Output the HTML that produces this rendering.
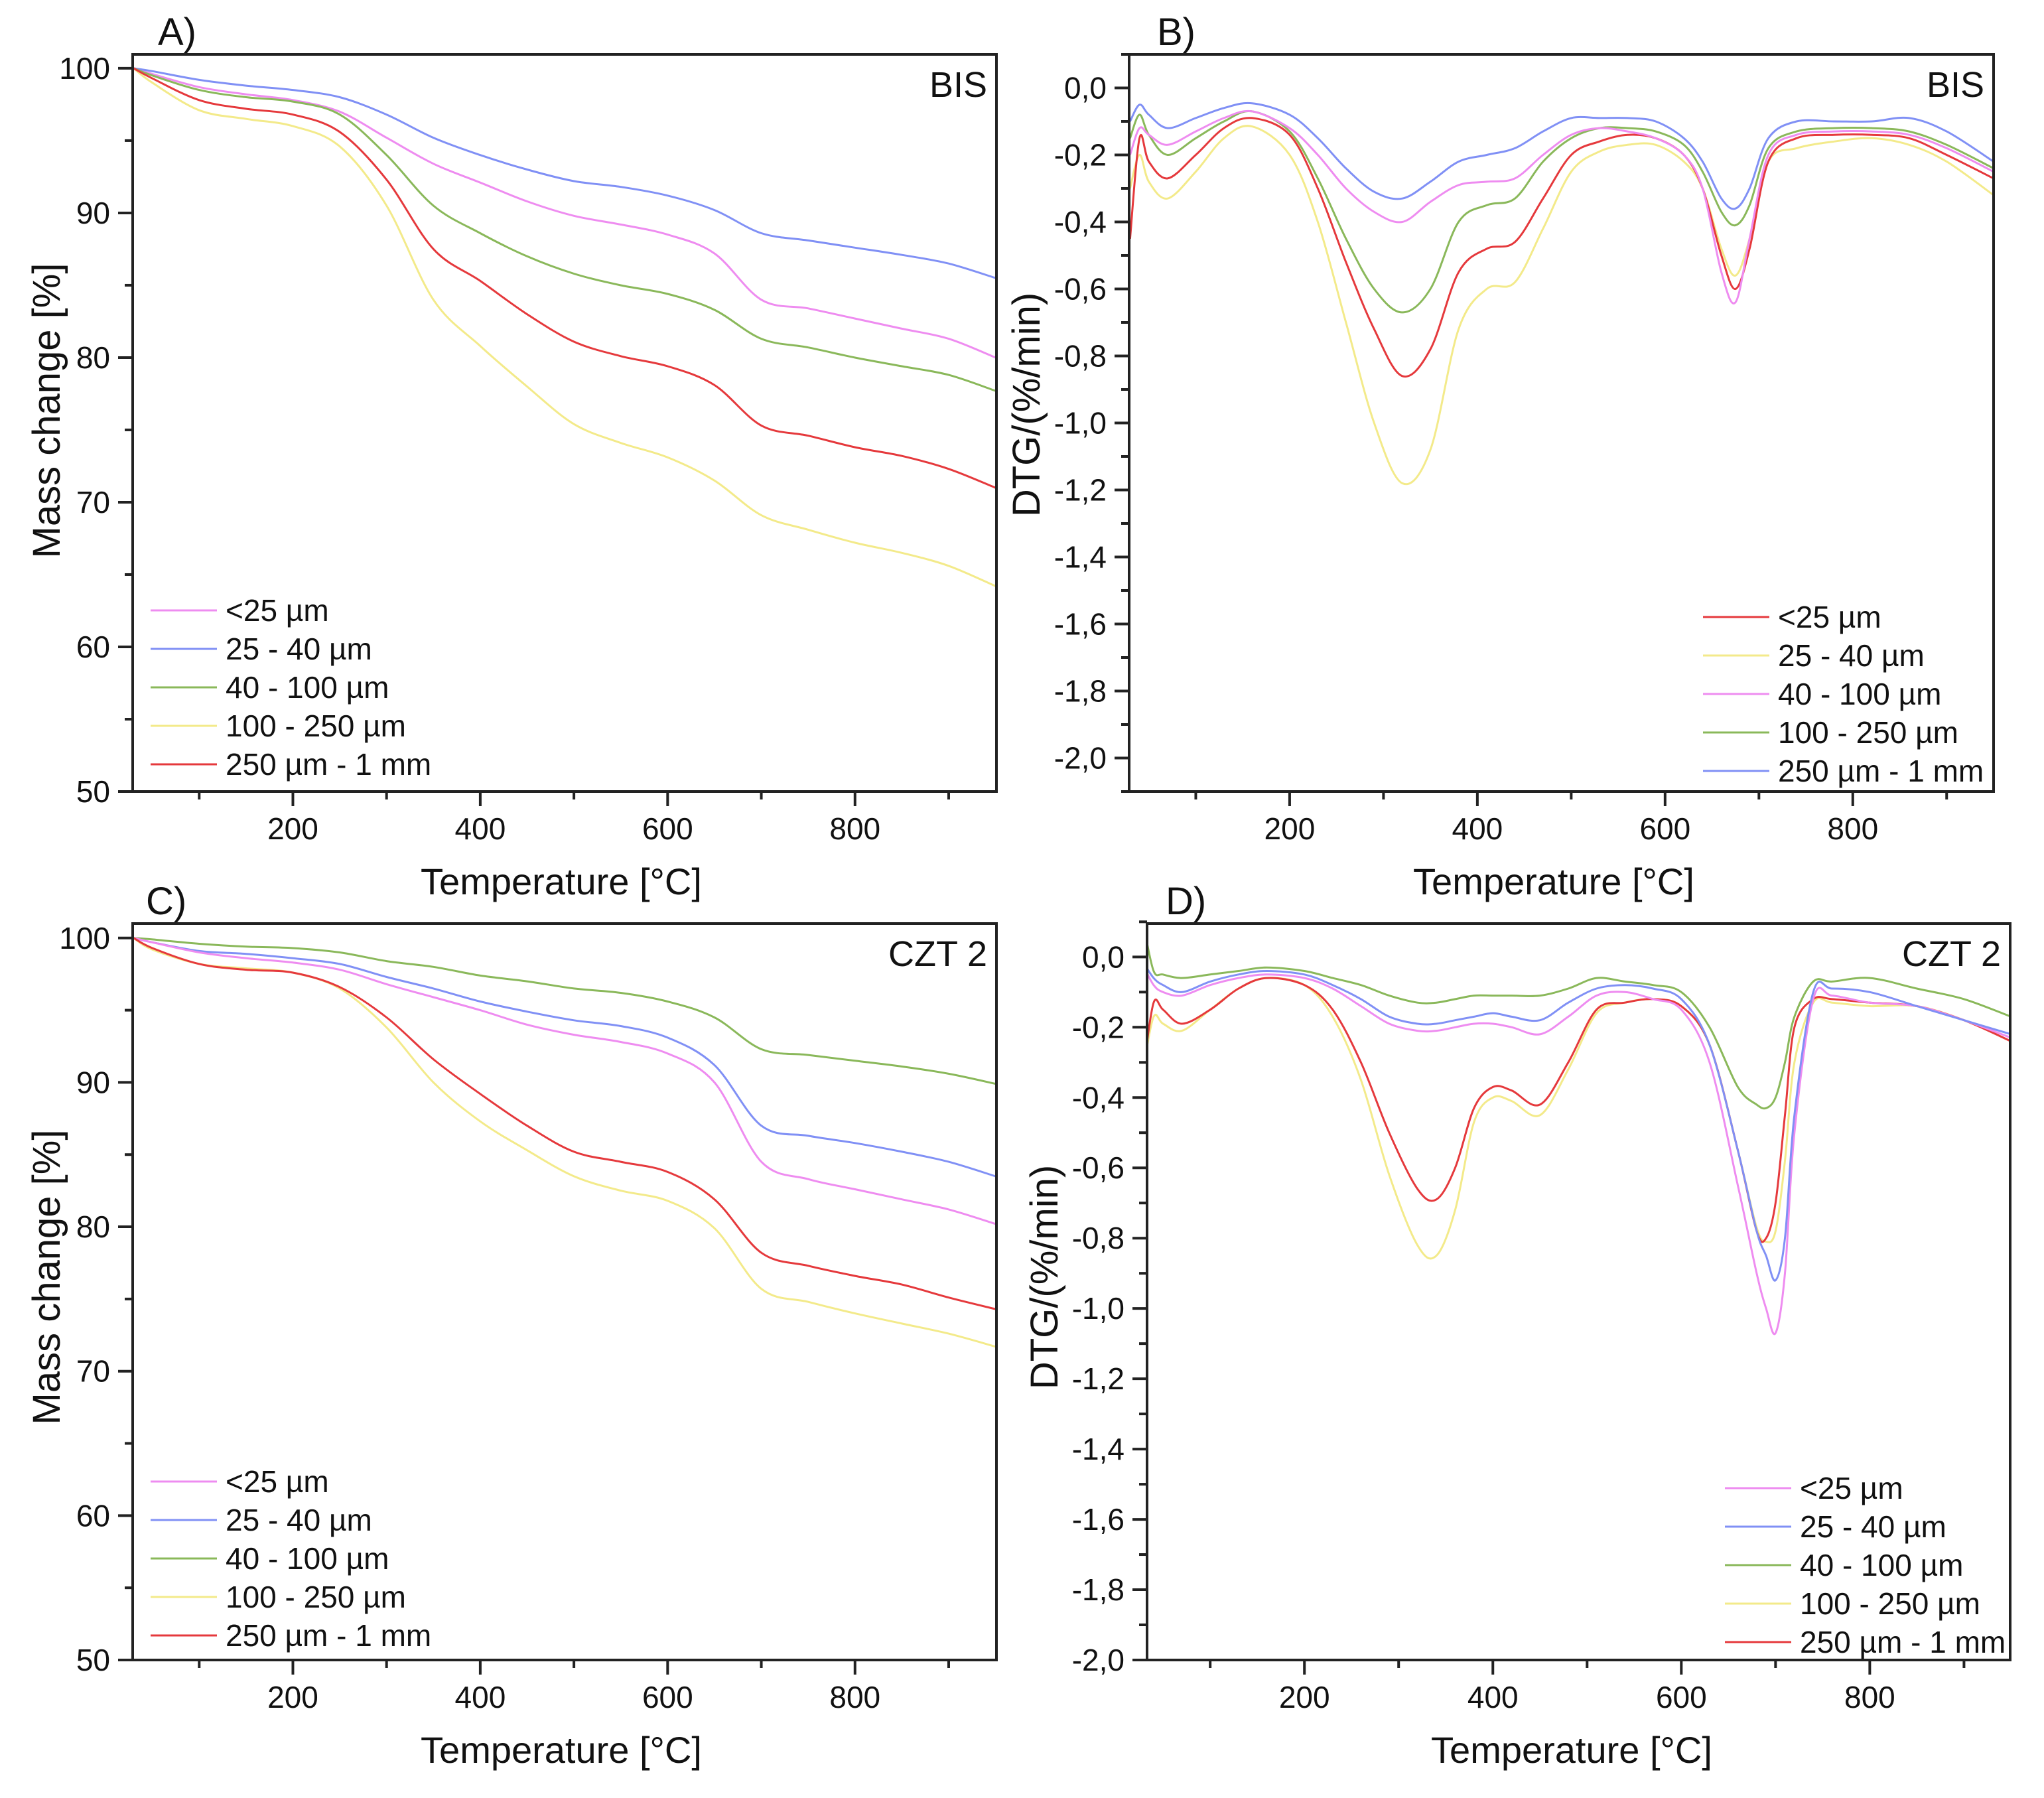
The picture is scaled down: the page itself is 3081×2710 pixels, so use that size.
<!DOCTYPE html>
<html><head><meta charset="utf-8"><style>
html,body{margin:0;padding:0;background:#fff;}
svg{display:block;font-family:"Liberation Sans",Arial,sans-serif;}
</style></head><body>
<svg id="fig" width="3081" height="2710" viewBox="0 0 3081 2710" xmlns="http://www.w3.org/2000/svg"></svg>
<script>
// ---------- Data ----------
const tgaT = [30,50,100,150,200,250,300,350,400,450,500,550,600,650,700,750,800,850,900,950];
const aPink   = [100,99.6,98.7,98.2,97.8,97.0,95.2,93.4,92.1,90.8,89.8,89.2,88.5,87.2,84.0,83.4,82.7,82.0,81.3,80.0];
const aBlue   = [100,99.8,99.2,98.8,98.5,98.0,96.8,95.2,94.0,93.0,92.2,91.8,91.2,90.2,88.6,88.1,87.6,87.1,86.5,85.5];
const aGreen  = [100,99.5,98.5,98.0,97.7,96.8,94.0,90.5,88.6,87.0,85.8,85.0,84.4,83.3,81.3,80.7,80.0,79.4,78.8,77.7];
const aYellow = [100,99.0,97.1,96.5,96.0,94.6,90.5,84.0,80.8,78.0,75.4,74.1,73.1,71.5,69.1,68.1,67.2,66.5,65.6,64.2];
const aRed    = [100,99.3,97.8,97.2,96.8,95.6,92.3,87.5,85.3,83.0,81.1,80.1,79.4,78.1,75.3,74.6,73.8,73.2,72.3,71.0];

const cGreen  = [100,99.9,99.6,99.4,99.3,99.0,98.4,98.0,97.4,97.0,96.5,96.2,95.6,94.5,92.3,91.9,91.5,91.1,90.6,89.9];
const cBlue   = [100,99.7,99.1,98.9,98.6,98.2,97.3,96.5,95.6,94.9,94.3,93.9,93.1,91.2,87.0,86.3,85.8,85.2,84.5,83.5];
const cPink   = [100,99.7,99.0,98.6,98.3,97.8,96.8,95.9,95.0,94.0,93.3,92.8,92.0,90.0,84.5,83.3,82.6,81.9,81.2,80.2];
const cRed    = [100,99.3,98.2,97.8,97.6,96.6,94.5,91.6,89.2,87.0,85.2,84.5,83.8,81.9,78.2,77.3,76.6,76.0,75.1,74.3];
const cYellow = [100,99.2,98.2,97.9,97.6,96.5,93.8,90.0,87.3,85.3,83.5,82.5,81.8,79.9,75.7,74.8,74.0,73.3,72.6,71.7];

const bT = [30,40,50,70,100,130,160,200,230,260,290,320,350,380,410,440,470,500,530,560,590,620,640,660,675,690,710,740,780,820,860,900,950];
const bRed    = [-0.45,-0.15,-0.22,-0.27,-0.2,-0.12,-0.09,-0.14,-0.3,-0.52,-0.72,-0.86,-0.78,-0.55,-0.48,-0.46,-0.33,-0.2,-0.16,-0.14,-0.15,-0.2,-0.3,-0.5,-0.6,-0.48,-0.22,-0.15,-0.14,-0.14,-0.15,-0.2,-0.27];
const bYellow = [-0.3,-0.2,-0.28,-0.33,-0.25,-0.15,-0.115,-0.2,-0.4,-0.7,-1.0,-1.18,-1.08,-0.72,-0.6,-0.58,-0.42,-0.25,-0.19,-0.17,-0.17,-0.22,-0.3,-0.48,-0.56,-0.45,-0.22,-0.18,-0.16,-0.15,-0.17,-0.22,-0.32];
const bPink   = [-0.2,-0.12,-0.14,-0.17,-0.13,-0.09,-0.07,-0.12,-0.2,-0.3,-0.37,-0.4,-0.34,-0.29,-0.28,-0.27,-0.2,-0.14,-0.12,-0.13,-0.15,-0.2,-0.3,-0.55,-0.64,-0.45,-0.2,-0.14,-0.13,-0.13,-0.14,-0.18,-0.25];
const bGreen  = [-0.15,-0.08,-0.14,-0.2,-0.15,-0.1,-0.07,-0.13,-0.27,-0.45,-0.6,-0.67,-0.6,-0.4,-0.35,-0.33,-0.22,-0.15,-0.12,-0.12,-0.13,-0.17,-0.25,-0.37,-0.41,-0.35,-0.18,-0.13,-0.12,-0.12,-0.13,-0.17,-0.24];
const bBlue   = [-0.1,-0.05,-0.08,-0.12,-0.09,-0.06,-0.046,-0.08,-0.15,-0.24,-0.31,-0.33,-0.28,-0.22,-0.2,-0.18,-0.13,-0.09,-0.09,-0.09,-0.1,-0.15,-0.22,-0.33,-0.36,-0.3,-0.15,-0.1,-0.1,-0.1,-0.09,-0.13,-0.22];

const dT = [30,40,50,70,100,130,160,200,230,260,290,320,340,360,380,400,420,450,480,510,540,570,600,630,660,680,690,700,710,720,740,760,800,850,900,950];
const dRed    = [-0.3,-0.13,-0.15,-0.19,-0.15,-0.09,-0.06,-0.08,-0.15,-0.3,-0.5,-0.66,-0.69,-0.6,-0.43,-0.37,-0.38,-0.42,-0.3,-0.15,-0.13,-0.12,-0.14,-0.25,-0.55,-0.78,-0.8,-0.7,-0.45,-0.2,-0.12,-0.12,-0.13,-0.14,-0.18,-0.24];
const dYellow = [-0.3,-0.17,-0.19,-0.21,-0.15,-0.09,-0.06,-0.08,-0.17,-0.35,-0.62,-0.82,-0.85,-0.72,-0.47,-0.4,-0.41,-0.45,-0.32,-0.16,-0.13,-0.12,-0.14,-0.25,-0.55,-0.77,-0.81,-0.78,-0.58,-0.3,-0.13,-0.13,-0.14,-0.14,-0.18,-0.24];
const dPink   = [-0.03,-0.08,-0.1,-0.11,-0.08,-0.06,-0.05,-0.06,-0.09,-0.14,-0.19,-0.21,-0.21,-0.2,-0.19,-0.19,-0.2,-0.22,-0.17,-0.11,-0.1,-0.12,-0.15,-0.3,-0.65,-0.9,-1.0,-1.07,-0.9,-0.5,-0.12,-0.11,-0.13,-0.14,-0.18,-0.23];
const dBlue   = [-0.02,-0.06,-0.08,-0.1,-0.07,-0.05,-0.04,-0.05,-0.08,-0.12,-0.17,-0.19,-0.19,-0.18,-0.17,-0.16,-0.17,-0.18,-0.13,-0.09,-0.08,-0.09,-0.12,-0.25,-0.55,-0.78,-0.85,-0.92,-0.8,-0.45,-0.1,-0.09,-0.1,-0.14,-0.18,-0.22];
const dGreen  = [0.08,-0.04,-0.05,-0.06,-0.05,-0.04,-0.03,-0.04,-0.06,-0.08,-0.11,-0.13,-0.13,-0.12,-0.11,-0.11,-0.11,-0.11,-0.09,-0.06,-0.07,-0.08,-0.1,-0.2,-0.37,-0.42,-0.43,-0.4,-0.3,-0.17,-0.07,-0.07,-0.06,-0.09,-0.12,-0.17];

const tgaLabels = ["<25 µm","25 - 40 µm","40 - 100 µm","100 - 250 µm"," 250 µm - 1 mm"];
const dtgLabels = ["<25 µm","25 - 40 µm","40 - 100 µm","100 - 250 µm","250 µm - 1 mm"];
const xTicks = [200,400,600,800];
const tgaYTicks = [50,60,70,80,90,100];
const dtgYTicks = [0,-0.2,-0.4,-0.6,-0.8,-1.0,-1.2,-1.4,-1.6,-1.8,-2.0];

const PINK="#ee8cf0", BLUE="#8090f5", GREEN="#8ab85a", YELLOW="#f3ea8a", RED="#e5393c";

// ---------- Helpers ----------
const NS="http://www.w3.org/2000/svg";
const svg=document.getElementById('fig');
function mk(tag,attrs,parent){const e=document.createElementNS(NS,tag);for(const k in attrs)e.setAttribute(k,attrs[k]);(parent||svg).appendChild(e);return e;}
function smoothPath(pts){
  let d="M"+pts[0][0].toFixed(1)+","+pts[0][1].toFixed(1);
  for(let i=0;i<pts.length-1;i++){
    const p0=pts[i-1]||pts[i],p1=pts[i],p2=pts[i+1],p3=pts[i+2]||p2;
    const c1x=p1[0]+(p2[0]-p0[0])/6,c1y=p1[1]+(p2[1]-p0[1])/6;
    const c2x=p2[0]-(p3[0]-p1[0])/6,c2y=p2[1]-(p3[1]-p1[1])/6;
    d+=" C"+c1x.toFixed(1)+","+c1y.toFixed(1)+" "+c2x.toFixed(1)+","+c2y.toFixed(1)+" "+p2[0].toFixed(1)+","+p2[1].toFixed(1);
  }
  return d;
}
function fmt(v,dec){return dec?v.toFixed(1).replace('.',','):String(v);}

function panel(cfg){
  const g=mk('g',{});
  
  
  const X=t=>cfg.L+(t-cfg.x0)/(cfg.x1-cfg.x0)*(cfg.R-cfg.L);
  const Y=v=>cfg.B-(v-cfg.y0)/(cfg.y1-cfg.y0)*(cfg.B-cfg.T);
  const cp=mk('clipPath',{id:'clip-'+cfg.id},svg);
  mk('rect',{x:cfg.L,y:cfg.T,width:cfg.R-cfg.L,height:cfg.B-cfg.T},cp);
  cfg.series.forEach(s=>{
    const pts=s.t.map((t,i)=>[X(t),Y(s.v[i])]);
    const p=mk('path',{d:smoothPath(pts),fill:'none',stroke:s.c,'stroke-width':3,'clip-path':'url(#clip-'+cfg.id+')'},g);
    
    
  });
  const fr=mk('rect',{x:cfg.L,y:cfg.T,width:cfg.R-cfg.L,height:cfg.B-cfg.T,fill:'none',stroke:'#222','stroke-width':4},g);
  
  
  for(let t=100;t<=900;t+=100){
    const x=X(t);const major=t%200===0;
    mk('line',{x1:x,y1:cfg.B,x2:x,y2:cfg.B+(major?22:12),stroke:'#222','stroke-width':4},g);
  }
  xTicks.forEach(t=>{
    const tx=mk('text',{x:X(t),y:cfg.B+72,'font-size':46,'text-anchor':'middle',fill:'#111'},g);
    tx.textContent=t;
    
    
  });
  cfg.minor.forEach(v=>{mk('line',{x1:cfg.L,y1:Y(v),x2:cfg.L-12,y2:Y(v),stroke:'#222','stroke-width':4},g);});
  cfg.yTicks.forEach(v=>{
    mk('line',{x1:cfg.L,y1:Y(v),x2:cfg.L-22,y2:Y(v),stroke:'#222','stroke-width':4},g);
    const tx=mk('text',{x:cfg.L-34,y:Y(v)+16,'font-size':46,'text-anchor':'end',fill:'#111'},g);
    tx.textContent=fmt(v,cfg.dec);
    
    
  });
  const xt=mk('text',{x:cfg.xtx,y:cfg.B+155,'font-size':56,'text-anchor':'middle',fill:'#111'},g);
  xt.textContent='Temperature [°C]';
  
  
  const yt=mk('text',{x:0,y:0,'font-size':58,'text-anchor':'middle',fill:'#111',transform:'translate('+cfg.ytx+','+cfg.yty+') rotate(-90)'},g);
  yt.textContent=cfg.ytitle;
  
  
  const pl=mk('text',{x:cfg.L+cfg.letterDx,y:cfg.T-14,'font-size':58,fill:'#111'},g);
  pl.textContent=cfg.letter;
  
  
  const sl=mk('text',{x:cfg.R-14,y:cfg.T+64,'font-size':54,'text-anchor':'end',fill:'#111'},g);
  sl.textContent=cfg.sample;
  
  
  cfg.legend.forEach((e,i)=>{
    const y=cfg.lgY+i*cfg.lgDy;
    const lg=mk('g',{},g);
    
    
    mk('line',{x1:cfg.lgX,y1:y,x2:cfg.lgX+100,y2:y,stroke:e.c,'stroke-width':3},lg);
    const tx=mk('text',{x:cfg.lgX+113,y:y+16,'font-size':46,fill:'#111'},lg);
    tx.textContent=e.n;
  });
}

const yMinorTga=[55,65,75,85,95];
const yMinorDtg=[];for(let k=-21;k<=1;k+=2)yMinorDtg.push(k/10);

panel({id:'a',name:'panel-a-tga-bis',L:200,R:1502,T:82,B:1193,x0:29,x1:951,y0:50,y1:100.96,
  yTicks:tgaYTicks,minor:yMinorTga,dec:false,xtx:846,ytx:90,yty:619,ytitle:'Mass change [%]',
  letter:'A)',letterDx:38,sample:'BIS',lgX:227,lgY:920,lgDy:58,
  series:[{t:tgaT,v:aPink,c:PINK,n:'line-a-lt25'},{t:tgaT,v:aBlue,c:BLUE,n:'line-a-25-40'},{t:tgaT,v:aGreen,c:GREEN,n:'line-a-40-100'},{t:tgaT,v:aYellow,c:YELLOW,n:'line-a-100-250'},{t:tgaT,v:aRed,c:RED,n:'line-a-250-1mm'}],
  legend:tgaLabels.map((n,i)=>({n,c:[PINK,BLUE,GREEN,YELLOW,RED][i]}))});

panel({id:'b',name:'panel-b-dtg-bis',L:1702,R:3005,T:82,B:1193,x0:29,x1:950,y0:-2.1,y1:0.1,
  yTicks:dtgYTicks,minor:yMinorDtg,dec:true,xtx:2342,ytx:1567,yty:610,ytitle:'DTG/(%/min)',
  letter:'B)',letterDx:42,sample:'BIS',lgX:2567,lgY:930,lgDy:58,
  series:[{t:bT,v:bYellow,c:YELLOW,n:'line-b-25-40'},{t:bT,v:bRed,c:RED,n:'line-b-lt25'},{t:bT,v:bGreen,c:GREEN,n:'line-b-100-250'},{t:bT,v:bPink,c:PINK,n:'line-b-40-100'},{t:bT,v:bBlue,c:BLUE,n:'line-b-250-1mm'}],
  legend:dtgLabels.map((n,i)=>({n,c:[RED,YELLOW,PINK,GREEN,BLUE][i]}))});

panel({id:'c',name:'panel-c-tga-czt2',L:200,R:1502,T:1392,B:2502,x0:29,x1:951,y0:50,y1:101,
  yTicks:tgaYTicks,minor:yMinorTga,dec:false,xtx:846,ytx:90,yty:1925,ytitle:'Mass change [%]',
  letter:'C)',letterDx:20,sample:'CZT 2',lgX:227,lgY:2233,lgDy:58,
  series:[{t:tgaT,v:cGreen,c:GREEN,n:'line-c-40-100'},{t:tgaT,v:cBlue,c:BLUE,n:'line-c-25-40'},{t:tgaT,v:cPink,c:PINK,n:'line-c-lt25'},{t:tgaT,v:cYellow,c:YELLOW,n:'line-c-100-250'},{t:tgaT,v:cRed,c:RED,n:'line-c-250-1mm'}],
  legend:tgaLabels.map((n,i)=>({n,c:[PINK,BLUE,GREEN,YELLOW,RED][i]}))});

panel({id:'d',name:'panel-d-dtg-czt2',L:1729,R:3030,T:1392,B:2502,x0:33,x1:949,y0:-2.0,y1:0.095,
  yTicks:dtgYTicks,minor:yMinorDtg.filter(v=>v>=-2),dec:true,xtx:2369,ytx:1594,yty:1925,ytitle:'DTG/(%/min)',
  letter:'D)',letterDx:28,sample:'CZT 2',lgX:2600,lgY:2243,lgDy:58,
  series:[{t:dT,v:dYellow,c:YELLOW,n:'line-d-100-250'},{t:dT,v:dRed,c:RED,n:'line-d-250-1mm'},{t:dT,v:dPink,c:PINK,n:'line-d-lt25'},{t:dT,v:dBlue,c:BLUE,n:'line-d-25-40'},{t:dT,v:dGreen,c:GREEN,n:'line-d-40-100'}],
  legend:dtgLabels.map((n,i)=>({n,c:[PINK,BLUE,GREEN,YELLOW,RED][i]}))});
</script>
</body></html>
